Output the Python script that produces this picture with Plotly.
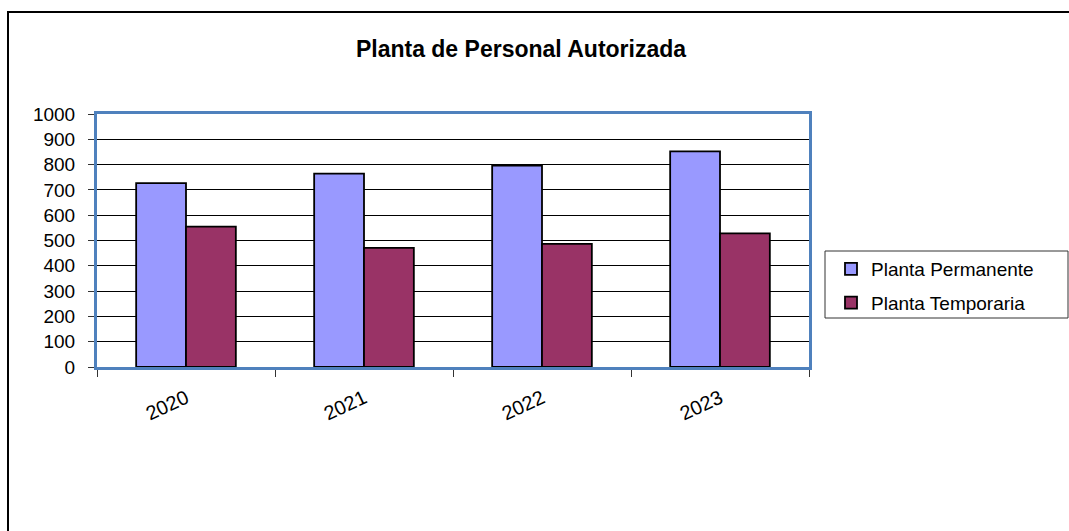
import plotly.graph_objects as go

# ------------------------------------------
# DATEN
# ------------------------------------------
YEARS = ["2020", "2021", "2022", "2023"]
PERMANENTE = [727, 764, 796, 852]
TEMPORARIA = [555, 471, 487, 528]
Y_TICKS = [0, 100, 200, 300, 400, 500, 600, 700, 800, 900, 1000]

# Farben / Styling
COLOR_PERM = "#9999FF"
COLOR_TEMP = "#993366"
BORDER_BLUE = "#4F81BD"
FONT = "Arial, 'Liberation Sans', sans-serif"

W, H = 1069, 531
PLOT_L, PLOT_R, PLOT_T, PLOT_B = 97, 809, 114, 367   # Bildschirm-Pixel
PW, PH = PLOT_R - PLOT_L, PLOT_B - PLOT_T
L, T = PLOT_L, PLOT_T
R, B = W - L - PW, H - T - PH


def px_x(x):
    return (x - PLOT_L) / PW


def px_y(y):
    return (PLOT_B - y) / PH


fig = go.Figure()

fig.add_trace(go.Bar(
    x=YEARS, y=PERMANENTE, name="Planta Permanente", legendgroup="a",
    marker=dict(color=COLOR_PERM, line=dict(color="black", width=1.8)),
))
fig.add_trace(go.Bar(
    x=YEARS, y=TEMPORARIA, name="Planta Temporaria", legendgroup="b",
    marker=dict(color=COLOR_TEMP, line=dict(color="black", width=1.8)),
))

# Rahmen außen + Legendenbox
fig.add_shape(type="rect", xref="paper", yref="paper",
              x0=px_x(8), x1=px_x(1100), y0=px_y(560), y1=px_y(12),
              line=dict(color="black", width=2), layer="below")
fig.add_shape(type="rect", xref="paper", yref="paper",
              x0=px_x(825), x1=px_x(1068), y0=px_y(318), y1=px_y(251),
              line=dict(color="#333333", width=1))

fig.update_layout(
    width=W, height=H,
    margin=dict(l=L, r=R, t=T, b=B),
    paper_bgcolor="white", plot_bgcolor="white",
    font=dict(family=FONT, color="black", size=18),
    barmode="group", bargap=0.44, bargroupgap=0,
    title=dict(text="<b>Planta de Personal Autorizada</b>", x=521 / W, y=1 - 49 / H,
               xref="container", yref="container", xanchor="center", yanchor="middle",
               font=dict(family=FONT, size=23, color="black")),
    legend=dict(x=px_x(831), y=px_y(250), xanchor="left", yanchor="top",
                bgcolor="rgba(0,0,0,0)", borderwidth=0, tracegroupgap=6,
                font=dict(family=FONT, size=19, color="black")),
    xaxis=dict(
        showline=True, linecolor=BORDER_BLUE, linewidth=3, mirror=True,
        ticks="outside", tickson="boundaries", ticklen=7, tickcolor="#333333", tickwidth=1,
        tickangle=-25, tickfont=dict(size=20), showgrid=False, ticklabelstandoff=9,
    ),
    yaxis=dict(
        range=[0, 1000], tickvals=Y_TICKS,
        showline=True, linecolor=BORDER_BLUE, linewidth=3, mirror=True,
        ticks="outside", ticklen=6, tickcolor="#333333", tickwidth=1,
        showgrid=True, gridcolor="black", gridwidth=1, zeroline=False,
        tickfont=dict(size=19), ticklabelstandoff=9,
    ),
)

# body-margin weg, damit die Figur bei (0,0) anfängt
fig.write_html(
    "out.html",
    config={"displayModeBar": False},
    post_script="document.body.style.margin='0px';document.body.style.overflow='hidden';",
)
